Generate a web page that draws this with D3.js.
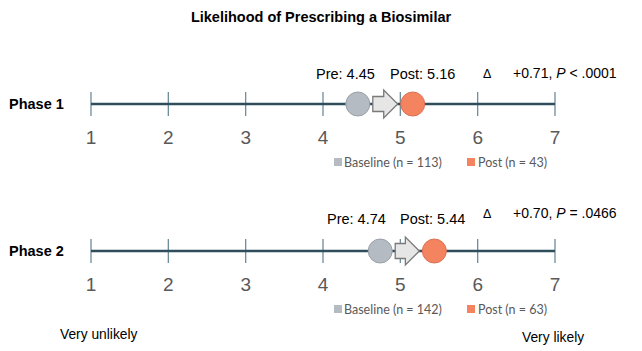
<!DOCTYPE html>
<html><head><meta charset="utf-8">
<script src="https://cdn.jsdelivr.net/npm/d3@7"></script>
<style>body{margin:0;background:#fff}svg{display:block}</style>
</head><body><svg id="c" width="642" height="351"></svg>
<script>
const phases = ["Phase 1", "Phase 2"];
const preValues = [4.45, 4.74];
const postValues = [5.16, 5.44];
const deltaText = ["+0.71", "+0.70"];
const pText = ["< .0001", "= .0466"];
const baselineN = [113, 142];
const postN = [43, 63];
const ticks = [1, 2, 3, 4, 5, 6, 7];

const svg = d3.select("#c");
const x = d3.scaleLinear().domain([1, 7]).range([91, 555]);
const lineY = [104, 251];
const tf = "Liberation Sans, Arial";

svg.append("text").attr("x", 321).attr("y", 22).attr("text-anchor", "middle")
  .attr("font-family", tf).attr("font-weight", "bold").attr("font-size", 14.5)
  .text("Likelihood of Prescribing a Biosimilar");

phases.forEach((ph, i) => {
  const y0 = lineY[i];
  const g = svg.append("g");
  g.append("text").attr("x", 9).attr("y", y0 + 5).attr("font-family", tf)
    .attr("font-weight", "bold").attr("font-size", 14.5).text(ph);
  g.selectAll("line.t").data(ticks).join("line")
    .attr("x1", d => x(d)).attr("x2", d => x(d)).attr("y1", y0 - 12).attr("y2", y0 + 12)
    .attr("stroke", "#6f8d9a").attr("stroke-width", 1.3);
  g.append("line").attr("x1", x(1)).attr("x2", x(7)).attr("y1", y0).attr("y2", y0)
    .attr("stroke", "#2f4e5b").attr("stroke-width", 2.5);
  g.selectAll("text.tl").data(ticks).join("text")
    .attr("x", d => x(d)).attr("y", y0 + 40).attr("text-anchor", "middle")
    .attr("font-family", tf).attr("font-size", 19).attr("fill", "#595959")
    .text(d => d);
  const xp = x(preValues[i]), xq = x(postValues[i]);
  const r = 12;
  const ax0 = xp + r + 3, ax1 = xq - r - 3;
  const hx = ax1 - 14;
  const pts = [[ax0, y0 - 7.5], [hx, y0 - 7.5], [hx, y0 - 14], [ax1, y0], [hx, y0 + 14], [hx, y0 + 7.5], [ax0, y0 + 7.5]];
  g.append("path").attr("d", d3.line()(pts) + "Z").attr("fill", "#e6e6e6").attr("stroke", "#7a7a7a").attr("stroke-width", 1.3);
  g.append("circle").attr("cx", xp).attr("cy", y0).attr("r", r).attr("fill", "#b5bbc3").attr("stroke", "#9aa0a8");
  g.append("circle").attr("cx", xq).attr("cy", y0).attr("r", r).attr("fill", "#f4845f").attr("stroke", "#d97256");
  const ly = i === 0 ? 79 : 224;
  g.append("text").attr("x", i === 0 ? 316 : 327).attr("y", ly).attr("font-family", tf).attr("font-size", 14.5)
    .text("Pre: " + preValues[i].toFixed(2));
  g.append("text").attr("x", i === 0 ? 390 : 400).attr("y", ly).attr("font-family", tf).attr("font-size", 14.5)
    .text("Post: " + postValues[i].toFixed(2));
  const dy = i === 0 ? 78 : 218;
  g.append("text").attr("x", 483).attr("y", dy).attr("font-family", tf).attr("font-size", 12.5).text("\u0394");
  const t = g.append("text").attr("x", 513).attr("y", dy).attr("font-family", tf).attr("font-size", 14);
  t.append("tspan").text(deltaText[i] + ", ");
  t.append("tspan").attr("font-style", "italic").text("P");
  t.append("tspan").text(" " + pText[i]);
  const legY = y0 + 63;
  g.append("rect").attr("x", 334).attr("y", legY - 9).attr("width", 8).attr("height", 8).attr("fill", "#b5bbc3");
  g.append("text").attr("x", 344).attr("y", legY).attr("font-family", "Lato, Open Sans").attr("font-size", 12.5)
    .attr("fill", "#595959").text("Baseline (n = " + baselineN[i] + ")");
  g.append("rect").attr("x", 467).attr("y", legY - 9).attr("width", 8).attr("height", 8).attr("fill", "#f4845f");
  g.append("text").attr("x", 478).attr("y", legY).attr("font-family", "Lato, Open Sans").attr("font-size", 12.5)
    .attr("fill", "#595959").text("Post (n = " + postN[i] + ")");
});

svg.append("text").attr("x", 60).attr("y", 339).attr("font-family", tf).attr("font-size", 13.8).text("Very unlikely");
svg.append("text").attr("x", 522).attr("y", 342).attr("font-family", tf).attr("font-size", 13.8).text("Very likely");
</script></body></html>
